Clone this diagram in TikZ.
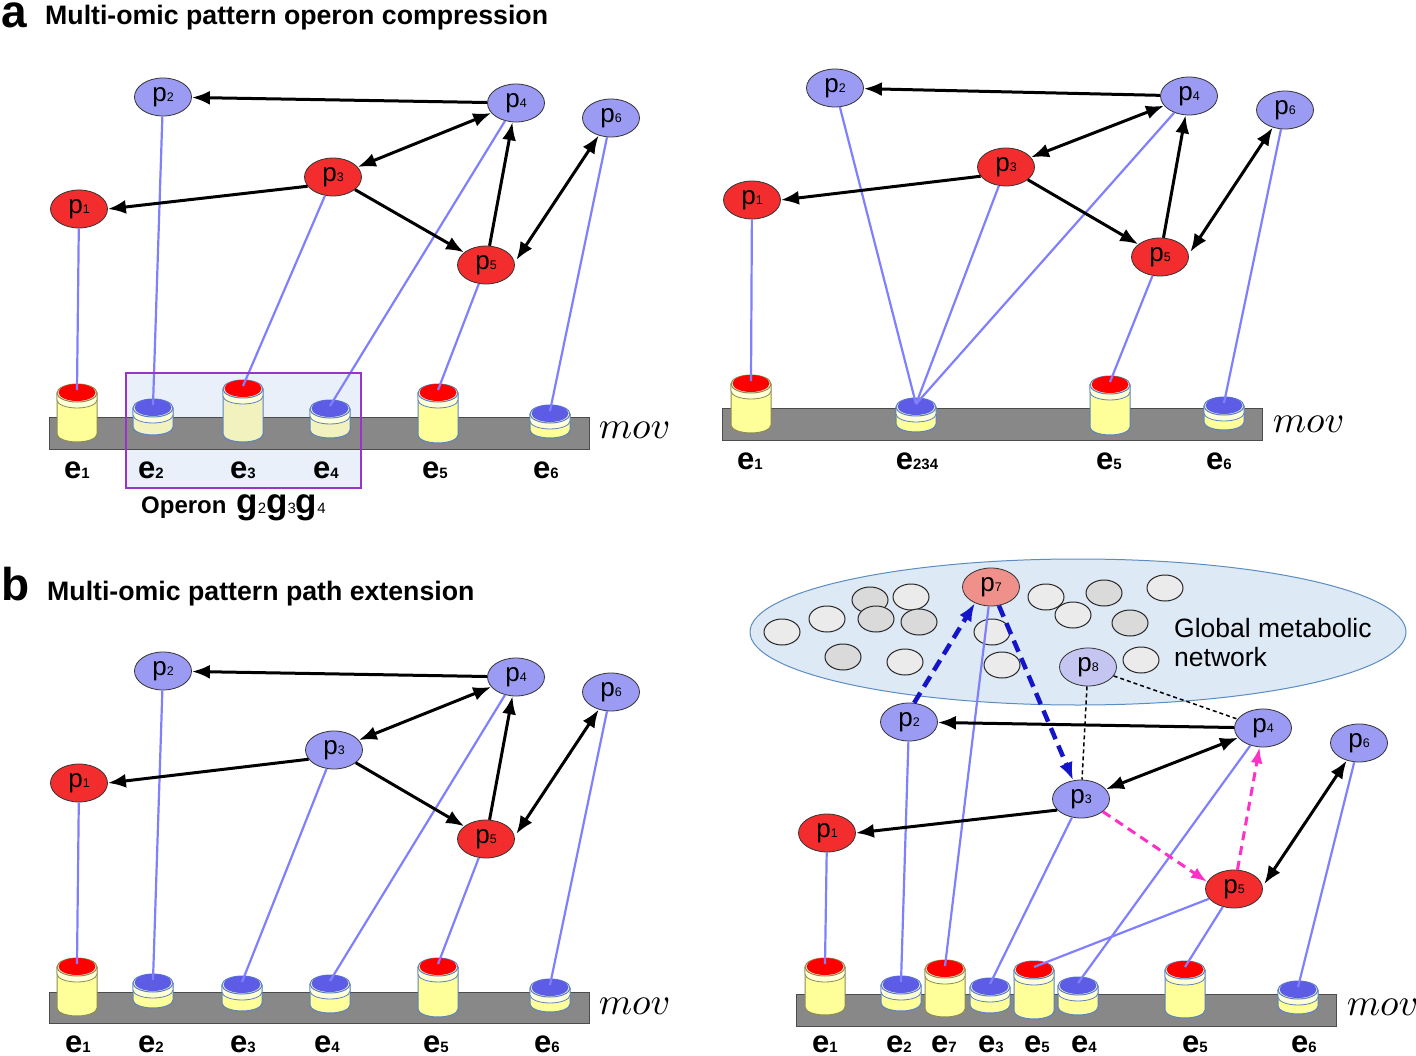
\documentclass[tikz,border=0pt]{standalone}
\usepackage{fontspec}
\setmainfont{Liberation Sans}
\usetikzlibrary{shapes.geometric,arrows.meta}
\definecolor{nred}{HTML}{F32D2D}
\definecolor{nblue}{HTML}{9B9BF3}
\definecolor{nsalmon}{HTML}{F0908A}
\definecolor{nlav}{HTML}{C5C5F2}
\definecolor{cylbody}{HTML}{FFFF99}
\definecolor{cylpale}{HTML}{F2F2BE}
\definecolor{captop}{HTML}{FFFFD8}
\definecolor{capblue}{HTML}{5C5CE6}
\definecolor{capred}{HTML}{FF0000}
\definecolor{rimblue}{HTML}{5A82BE}
\definecolor{rimolive}{HTML}{8C8C50}
\definecolor{barfill}{HTML}{888888}
\definecolor{lineblue}{HTML}{8080FF}
\definecolor{oppurple}{HTML}{9933CC}
\definecolor{opfill}{HTML}{EAF0FA}
\definecolor{netfill}{HTML}{DDE9F5}
\definecolor{netedge}{HTML}{5B8CC2}
\definecolor{cl}{HTML}{EBEBEB}
\definecolor{cg}{HTML}{DADADA}
\definecolor{dblue}{HTML}{1414C8}
\definecolor{mpink}{HTML}{FF30C8}
\newcommand{\plab}[1]{{\fontsize{26}{26}\selectfont p}{\fontsize{12.5}{12.5}\selectfont #1}}
\newcommand{\elab}[1]{{\fontsize{31}{31}\selectfont\bfseries e}{\fontsize{15}{15}\selectfont\bfseries #1}}
\newcommand{\glab}[1]{{\fontsize{35}{35}\selectfont\bfseries g}{\fontsize{15}{15}\selectfont\mdseries #1}}
% cx, top, bottom, cap colour, outline colour, coordinate name, body colour
\newcommand{\drawcyl}[7]{%
  \fill[#7] (#1-20,#2+9) rectangle (#1+20,#3-8);
  \fill[#7] (#1,#3-8) ellipse[x radius=20,y radius=8];
  \draw[#5,line width=1pt] (#1-20,#2+9) -- (#1-20,#3-8) arc[start angle=180,end angle=0,x radius=20,y radius=8] -- (#1+20,#2+9);
  \filldraw[fill=captop,draw=#5,line width=0.8pt] (#1-20,#2+9) -- (#1-20,#2+16) arc[start angle=180,end angle=0,x radius=20,y radius=8] -- (#1+20,#2+9) -- cycle;
  \filldraw[fill=captop,draw=#5,line width=1pt] (#1,#2+9) ellipse[x radius=20,y radius=9];
  \fill[#4] (#1,#2+8.5) ellipse[x radius=18.5,y radius=8.5];
  \coordinate (#6) at (#1,#2+6);
}
\begin{document}
\begin{tikzpicture}[x=1pt,y=-1pt,
  pnode/.style={ellipse,draw=black!80,line width=0.8pt,minimum width=57,minimum height=38,inner sep=0},
  redn/.style={pnode,fill=nred},
  bluen/.style={pnode,fill=nblue},
  arr/.style={draw=black,line width=3pt,-{Latex[length=18pt,width=14pt]}},
  darr/.style={draw=black,line width=3pt,{Latex[length=18pt,width=14pt]}-{Latex[length=18pt,width=14pt]}},
  bline/.style={draw=lineblue,line width=2.2pt},
  bdash/.style={draw=dblue,line width=4.5pt,dash pattern=on 12pt off 7pt,-{Latex[length=18pt,width=14pt]}},
  mdash/.style={draw=mpink,line width=3pt,dash pattern=on 9pt off 6pt,-{Latex[length=16pt,width=12pt]}},
  kdot/.style={draw=black,line width=1.5pt,dash pattern=on 4pt off 3pt},
  bar/.style={fill=barfill,draw=black!70,line width=1pt},
  elabel/.style={anchor=base,inner sep=0,text depth=0pt},
  movl/.style={anchor=base west,inner sep=0,scale=3.8},
  circ/.style={draw=black!85,line width=1pt}
]
\useasboundingbox (0,0) rectangle (1416,1056);
\fill[white] (0,0) rectangle (1416,1056);

% ---------- titles
\node[anchor=base west,inner sep=0,text height=25pt,text depth=0pt] (ta) at (1,28) {\fontsize{46}{46}\selectfont\bfseries a};
\node[anchor=base west,inner sep=0] (tta) at (45,25) {\fontsize{26.7}{26.7}\selectfont\bfseries Multi-omic pattern operon compression};
\node[anchor=base west,inner sep=0,text depth=0pt] (tb) at (1,600) {\fontsize{46}{46}\selectfont\bfseries b};
\node[anchor=base west,inner sep=0] (ttb) at (47,600) {\fontsize{26.7}{26.7}\selectfont\bfseries Multi-omic pattern path extension};

% ---------- global metabolic network
\filldraw[fill=netfill,draw=netedge,line width=1pt] (1078,632) ellipse[x radius=328,y radius=73];
\foreach \x/\y/\c in {782/632/cl,827/619/cl,870/600/cg,911/597/cl,876/619/cg,919/622/cg,843/657/cg,905/662/cl,992/632/cl,1002/665/cl,1046/597/cl,1073/615/cl,1104/593/cg,1165/588/cl,1130/623/cg,1141/660/cl}
  \filldraw[circ,fill=\c] (\x,\y) ellipse[x radius=18,y radius=13];
\node[anchor=base west,inner sep=0] (gm1) at (1174,637) {\fontsize{26.5}{26.5}\selectfont Global metabolic};
\node[anchor=base west,inner sep=0] (gm2) at (1174,666) {\fontsize{26.5}{26.5}\selectfont network};

% operon background
\fill[opfill] (126,373) rectangle (361,488);

% ---------- bars
\draw[bar] (49,417) rectangle (589,449);
\draw[bar] (722,408) rectangle (1262,440);
\draw[bar] (49,992) rectangle (589,1023);
\draw[bar] (796,994) rectangle (1336,1026);

% ---------- cylinders
\drawcyl{77}{384}{442}{capred}{rimolive}{Ae1}{cylbody}
\drawcyl{153}{399}{435}{capblue}{rimblue}{Ae2}{cylpale}
\drawcyl{243}{380}{442}{capred}{rimblue}{Ae3}{cylpale}
\drawcyl{330}{400}{438}{capblue}{rimblue}{Ae4}{cylpale}
\drawcyl{438}{384}{443}{capred}{rimblue}{Ae5}{cylbody}
\drawcyl{550}{405}{438}{capblue}{rimblue}{Ae6}{cylbody}

\drawcyl{751}{375}{433}{capred}{rimolive}{Be1}{cylbody}
\drawcyl{916}{398}{432}{capblue}{rimblue}{Be234}{cylbody}
\drawcyl{1110}{376}{435}{capred}{rimblue}{Be5}{cylbody}
\drawcyl{1224}{397}{430}{capblue}{rimblue}{Be6}{cylbody}

\drawcyl{77}{958}{1016}{capred}{rimolive}{Ce1}{cylbody}
\drawcyl{153}{974}{1008}{capblue}{rimblue}{Ce2}{cylbody}
\drawcyl{242}{976}{1011}{capblue}{rimblue}{Ce3}{cylbody}
\drawcyl{330}{975}{1013}{capblue}{rimblue}{Ce4}{cylbody}
\drawcyl{438}{958}{1017}{capred}{rimblue}{Ce5}{cylbody}
\drawcyl{550}{979}{1012}{capblue}{rimblue}{Ce6}{cylbody}

\drawcyl{825}{958}{1015}{capred}{rimolive}{De1}{cylbody}
\drawcyl{901}{976}{1011}{capblue}{rimblue}{De2}{cylbody}
\drawcyl{945}{960}{1017}{capred}{rimolive}{De7}{cylbody}
\drawcyl{990}{978}{1013}{capblue}{rimblue}{De3}{cylbody}
\drawcyl{1034}{961}{1019}{capred}{rimblue}{De5a}{cylbody}
\drawcyl{1078}{977}{1015}{capblue}{rimblue}{De4}{cylbody}
\drawcyl{1185}{961}{1018}{capred}{rimblue}{De5b}{cylbody}
\drawcyl{1298}{981}{1014}{capblue}{rimblue}{De6}{cylbody}

% ---------- nodes
\node[redn]  (Ap1) at (79,209) {\plab{1}};
\node[bluen] (Ap2) at (163,97) {\plab{2}};
\node[redn]  (Ap3) at (333,177) {\plab{3}};
\node[bluen] (Ap4) at (516,103) {\plab{4}};
\node[redn]  (Ap5) at (486,265) {\plab{5}};
\node[bluen] (Ap6) at (611,118) {\plab{6}};

\node[redn]  (Bp1) at (752,200) {\plab{1}};
\node[bluen] (Bp2) at (835,88) {\plab{2}};
\node[redn]  (Bp3) at (1006,167) {\plab{3}};
\node[bluen] (Bp4) at (1189,96) {\plab{4}};
\node[redn]  (Bp5) at (1160,257) {\plab{5}};
\node[bluen] (Bp6) at (1285,110) {\plab{6}};

\node[redn]  (Cp1) at (79,783) {\plab{1}};
\node[bluen] (Cp2) at (163,671) {\plab{2}};
\node[bluen] (Cp3) at (334,750) {\plab{3}};
\node[bluen] (Cp4) at (516,677) {\plab{4}};
\node[redn]  (Cp5) at (486,839) {\plab{5}};
\node[bluen] (Cp6) at (611,692) {\plab{6}};

\node[redn]  (Dp1) at (827,833) {\plab{1}};
\node[bluen] (Dp2) at (909,722) {\plab{2}};
\node[bluen] (Dp3) at (1081,799) {\plab{3}};
\node[bluen] (Dp4) at (1263,728) {\plab{4}};
\node[redn]  (Dp5) at (1234,889) {\plab{5}};
\node[bluen] (Dp6) at (1359,743) {\plab{6}};
\node[pnode,fill=nsalmon] (Dp7) at (991,587) {\plab{7}};
\node[pnode,fill=nlav]    (Dp8) at (1088,667) {\plab{8}};

% ---------- blue links
\foreach \n in {1,...,6} \draw[bline] (Ap\n) -- (Ae\n);
\draw[bline] (Bp1) -- (Be1);
\draw[bline] (Bp2) -- (Be234);
\draw[bline] (Bp3) -- (Be234);
\draw[bline] (Bp4) -- (Be234);
\draw[bline] (Bp5) -- (Be5);
\draw[bline] (Bp6) -- (Be6);
\foreach \n in {1,...,6} \draw[bline] (Cp\n) -- (Ce\n);
\draw[bline] (Dp1) -- (De1);
\draw[bline] (Dp2) -- (De2);
\draw[bline] (Dp7) -- (De7);
\draw[bline] (Dp3) -- (De3);
\draw[bline] (Dp4) -- (De4);
\draw[bline] (Dp5) -- (De5a);
\draw[bline] (Dp5) -- (De5b);
\draw[bline] (Dp6) -- (De6);

% ---------- black arrows
\foreach \P in {A,B,C}{
  \draw[arr] (\P p4) -- (\P p2);
  \draw[darr] (\P p3) -- (\P p4);
  \draw[arr] (\P p3.200) -- (\P p1.east);
  \draw[arr] (\P p3) -- (\P p5);
  \draw[arr] (\P p5) -- (\P p4);
  \draw[darr,shorten <=3pt] (\P p5.5) -- (\P p6.235);
}
\draw[arr] (Dp4) -- (Dp2);
\draw[darr] (Dp3) -- (Dp4);
\draw[arr] (Dp3.205) -- (Dp1.east);
\draw[darr,shorten <=3pt] (Dp5.5) -- (Dp6.235);

% ---------- path extension arrows
\draw[mdash] (Dp3.-30) -- (Dp5.165);
\draw[mdash] (Dp5) -- (Dp4);
\draw[bdash] (Dp2.75) -- (Dp7.225);
\draw[bdash] (Dp7) -- (Dp3);
\draw[kdot] (Dp8) -- (Dp3);
\draw[kdot] (Dp8) -- (Dp4);

% operon frame
\draw[oppurple,line width=2.5pt] (126,373) rectangle (361,488);
\node[anchor=base west,inner sep=0] (opl) at (141,513) {\fontsize{24}{24}\selectfont\bfseries Operon\hspace{10pt}\glab{2}\glab{3}\glab{4}};

% ---------- labels
\node[elabel] (Al1) at (77,478) {\elab{1}};
\node[elabel] (Al2) at (151,478) {\elab{2}};
\node[elabel] (Al3) at (243,478) {\elab{3}};
\node[elabel] (Al4) at (326,478) {\elab{4}};
\node[elabel] (Al5) at (435,478) {\elab{5}};
\node[elabel] (Al6) at (546,478) {\elab{6}};
\node[movl] (Amov) at (598,438) {$mov$};

\node[elabel] (Bl1) at (750,469) {\elab{1}};
\node[elabel] (Bl234) at (917,469) {\elab{234}};
\node[elabel] (Bl5) at (1109,469) {\elab{5}};
\node[elabel] (Bl6) at (1219,469) {\elab{6}};
\node[movl] (Bmov) at (1272,432) {$mov$};

\node[elabel] (Cl1) at (78,1052) {\elab{1}};
\node[elabel] (Cl2) at (151,1052) {\elab{2}};
\node[elabel] (Cl3) at (243,1052) {\elab{3}};
\node[elabel] (Cl4) at (327,1052) {\elab{4}};
\node[elabel] (Cl5) at (436,1052) {\elab{5}};
\node[elabel] (Cl6) at (547,1052) {\elab{6}};
\node[movl] (Cmov) at (598,1014) {$mov$};

\node[elabel] (Dl1) at (825,1052) {\elab{1}};
\node[elabel] (Dl2) at (899,1052) {\elab{2}};
\node[elabel] (Dl7) at (944,1052) {\elab{7}};
\node[elabel] (Dl3) at (991,1052) {\elab{3}};
\node[elabel] (Dl5a) at (1037,1052) {\elab{5}};
\node[elabel] (Dl4) at (1084,1052) {\elab{4}};
\node[elabel] (Dl5b) at (1195,1052) {\elab{5}};
\node[elabel] (Dl6) at (1304,1052) {\elab{6}};
\node[movl] (Dmov) at (1346,1015) {$mov$};
\end{tikzpicture}
\end{document}
